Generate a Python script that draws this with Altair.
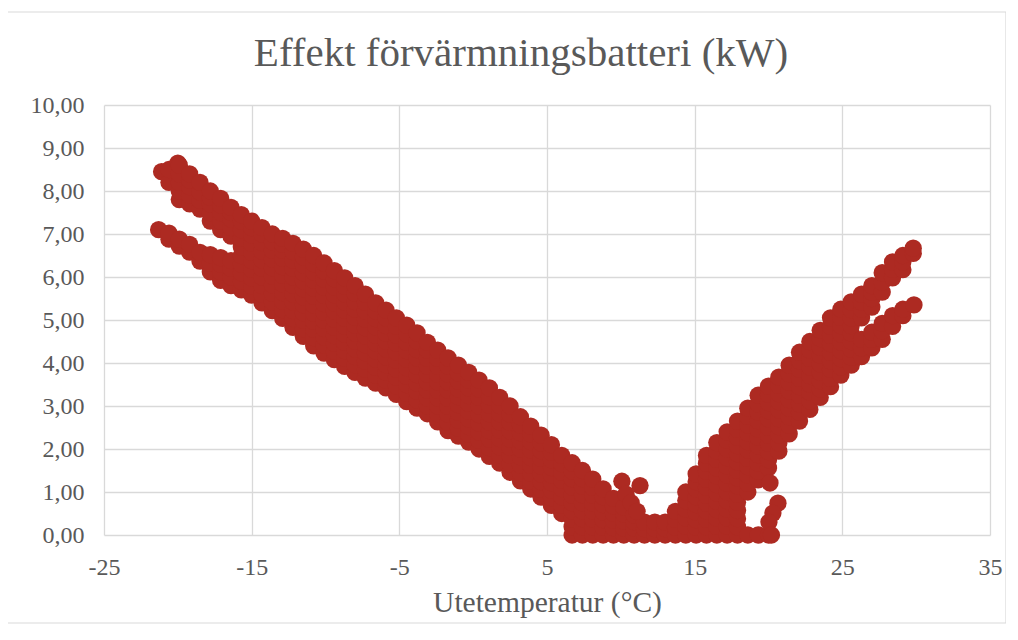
import altair as alt
import pandas as pd

RED = "#AD2A22"
GRID = "#D9D9D9"
TEXT = "#595959"
FONT = "Liberation Serif"

# ---- values (temperature column -> kW values in that column) ----
# upper branch of the cold side
arm_hi_temp = [-21.1, -20.6, -20.0, -19.9, -19.2, -18.5, -17.8, -17.1, -16.4]
arm_hi_kw = [
    [8.45],
    [8.2, 8.5],
    [8.65],
    [7.8, 8.0, 8.2, 8.4, 8.6],
    [7.7, 7.9, 8.1, 8.25, 8.4],
    [7.58, 7.78, 7.98, 8.2],
    [7.3, 7.5, 7.7, 7.85, 8.0],
    [7.1, 7.3, 7.5, 7.68, 7.83],
    [6.95, 7.15, 7.35, 7.5, 7.62],
]
# lower branch of the cold side
arm_lo_temp = [-21.3, -20.6, -19.9, -19.2, -18.5, -17.8, -17.1, -16.4]
arm_lo_kw = [
    [7.1],
    [6.88, 7.02],
    [6.72, 6.88],
    [6.58, 6.76],
    [6.37, 6.57],
    [6.12, 6.32, 6.52],
    [5.92, 6.12, 6.3, 6.45],
    [5.8, 6.0, 6.2, 6.38],
]
# main cold band
cold_temp = [-15.7, -15.0, -14.3, -13.6, -12.9, -12.2, -11.5, -10.8, -10.1, -9.4,
             -8.7, -8.0, -7.3, -6.6, -5.9, -5.2, -4.5, -3.8, -3.1, -2.4,
             -1.7, -1.0, -0.3, 0.4, 1.1, 1.8, 2.5, 3.2, 3.9, 4.6, 5.3, 6.0]
cold_kw = [
    [5.7, 5.9, 6.1, 6.3, 6.5, 6.7, 6.9, 7.1, 7.3, 7.45],
    [5.58, 5.78, 5.98, 6.18, 6.38, 6.58, 6.78, 6.98, 7.15, 7.3],
    [5.4, 5.6, 5.8, 6.0, 6.2, 6.4, 6.6, 6.8, 7.0, 7.15],
    [5.22, 5.42, 5.62, 5.82, 6.02, 6.22, 6.42, 6.62, 6.82, 7.0],
    [5.04, 5.24, 5.44, 5.64, 5.84, 6.04, 6.24, 6.44, 6.62, 6.76, 6.9],
    [4.83, 5.03, 5.22, 5.42, 5.61, 5.81, 6.0, 6.2, 6.39, 6.59, 6.78],
    [4.62, 4.8, 4.99, 5.17, 5.36, 5.54, 5.73, 5.91, 6.1, 6.28, 6.47, 6.65],
    [4.4, 4.59, 4.78, 4.97, 5.16, 5.35, 5.55, 5.74, 5.93, 6.12, 6.31, 6.5],
    [4.23, 4.42, 4.61, 4.8, 4.99, 5.18, 5.38, 5.57, 5.76, 5.95, 6.14, 6.33],
    [4.08, 4.27, 4.46, 4.64, 4.83, 5.02, 5.21, 5.4, 5.59, 5.77, 5.96, 6.15],
    [3.92, 4.11, 4.29, 4.48, 4.67, 4.86, 5.04, 5.23, 5.42, 5.61, 5.79, 5.98],
    [3.78, 3.96, 4.15, 4.33, 4.51, 4.7, 4.88, 5.06, 5.25, 5.43, 5.62, 5.8],
    [3.65, 3.85, 4.04, 4.24, 4.43, 4.63, 4.82, 5.02, 5.21, 5.41, 5.6],
    [3.53, 3.72, 3.9, 4.09, 4.28, 4.47, 4.65, 4.84, 5.03, 5.21, 5.4],
    [3.42, 3.6, 3.78, 3.96, 4.14, 4.33, 4.51, 4.69, 4.87, 5.05, 5.23],
    [3.27, 3.47, 3.67, 3.86, 4.06, 4.26, 4.46, 4.65, 4.85, 5.05],
    [3.1, 3.3, 3.5, 3.69, 3.89, 4.09, 4.29, 4.48, 4.68, 4.88],
    [2.95, 3.14, 3.34, 3.53, 3.73, 3.92, 4.12, 4.31, 4.51, 4.7],
    [2.82, 3.0, 3.19, 3.37, 3.56, 3.74, 3.93, 4.11, 4.3, 4.48],
    [2.63, 2.82, 3.0, 3.19, 3.37, 3.56, 3.74, 3.93, 4.11, 4.3],
    [2.43, 2.62, 2.81, 2.99, 3.18, 3.37, 3.56, 3.74, 3.93, 4.12],
    [2.3, 2.48, 2.67, 2.85, 3.03, 3.22, 3.4, 3.58, 3.77, 3.95],
    [2.16, 2.34, 2.52, 2.7, 2.88, 3.06, 3.24, 3.42, 3.6, 3.78],
    [2.0, 2.2, 2.4, 2.6, 2.8, 3.0, 3.2, 3.4, 3.6],
    [1.83, 2.03, 2.23, 2.43, 2.63, 2.82, 3.02, 3.22, 3.42],
    [1.67, 1.86, 2.05, 2.24, 2.44, 2.63, 2.82, 3.01, 3.2],
    [1.46, 1.65, 1.85, 2.04, 2.23, 2.42, 2.62, 2.81, 3.0],
    [1.26, 1.45, 1.63, 1.82, 2.0, 2.19, 2.38, 2.56, 2.75],
    [1.07, 1.25, 1.44, 1.62, 1.8, 1.98, 2.17, 2.35, 2.53],
    [0.88, 1.06, 1.24, 1.42, 1.6, 1.78, 1.96, 2.14, 2.32],
    [0.69, 0.87, 1.04, 1.22, 1.4, 1.57, 1.75, 1.92, 2.1],
    [0.5, 0.69, 0.89, 1.08, 1.27, 1.46, 1.66, 1.85],
]
# valley (low power around 7-13 degrees)
valley_temp = [6.7, 7.4, 8.1, 8.8, 9.5, 10.2, 10.9, 11.6, 12.3, 13.0]
valley_kw = [
    [0.0, 0.19, 0.37, 0.56, 0.75, 0.93, 1.12, 1.31, 1.49, 1.68],
    [0.0, 0.19, 0.38, 0.56, 0.75, 0.94, 1.13, 1.31, 1.5],
    [0.0, 0.19, 0.37, 0.56, 0.74, 0.93, 1.11, 1.3],
    [0.0, 0.18, 0.36, 0.54, 0.71, 0.89, 1.07],
    [0.0, 0.17, 0.34, 0.51, 0.68, 0.85],
    [0.0, 0.16, 0.33, 0.49, 0.65],
    [0.0, 0.16, 0.31, 0.47],
    [0.0, 0.15, 0.3],
    [0.0, 0.15, 0.3],
    [0.0, 0.15, 0.3],
]
# warm side band
warm_temp = [13.7, 14.4, 15.1, 15.8, 16.5, 17.2, 17.9, 18.6, 19.3, 20.0,
             20.7, 21.4, 22.1, 22.8, 23.5, 24.2, 24.9, 25.6]
warm_kw = [
    [0.0, 0.18, 0.37, 0.55],
    [0.0, 0.2, 0.4, 0.6, 0.8, 1.0],
    [0.0, 0.18, 0.36, 0.53, 0.71, 0.89, 1.07, 1.24, 1.42],
    [0.0, 0.19, 0.37, 0.56, 0.74, 0.93, 1.11, 1.3, 1.48, 1.67, 1.85],
    [0.0, 0.2, 0.39, 0.59, 0.78, 0.98, 1.17, 1.37, 1.56, 1.76, 1.95, 2.15],
    [0.0, 0.2, 0.4, 0.6, 0.8, 1.0, 1.2, 1.4, 1.6, 1.8, 2.0, 2.2, 2.4],
    [0.0, 0.19, 0.38, 0.57, 0.76, 0.95, 1.14, 1.33, 1.51, 1.7, 1.89, 2.08, 2.27, 2.46, 2.65],
    [0.0, 1.0, 1.2, 1.39, 1.59, 1.78, 1.98, 2.17, 2.37, 2.56, 2.76, 2.95],
    [0.0, 1.28, 1.48, 1.67, 1.87, 2.07, 2.27, 2.46, 2.66, 2.86, 3.05, 3.25],
    [0.0, 1.56, 1.75, 1.94, 2.13, 2.32, 2.51, 2.7, 2.89, 3.08, 3.27, 3.46],
    [1.95, 2.14, 2.33, 2.52, 2.71, 2.91, 3.1, 3.29, 3.48, 3.67],
    [2.35, 2.55, 2.75, 2.95, 3.15, 3.35, 3.55, 3.75, 3.95],
    [2.65, 2.85, 3.05, 3.25, 3.45, 3.65, 3.85, 4.05, 4.25],
    [2.92, 3.12, 3.32, 3.51, 3.71, 3.91, 4.11, 4.3, 4.5],
    [3.2, 3.4, 3.59, 3.79, 3.98, 4.18, 4.37, 4.57, 4.76],
    [3.45, 3.65, 3.85, 4.05, 4.25, 4.45, 4.65, 4.85, 5.05],
    [3.72, 3.91, 4.1, 4.29, 4.49, 4.68, 4.87, 5.06, 5.25],
    [3.95, 4.13, 4.32, 4.5, 4.69, 4.87, 5.05, 5.24, 5.42],
]
# warm side upper and lower branches
warm_hi_temp = [26.3, 27.0, 27.7, 28.4, 29.1, 29.8]
warm_hi_kw = [[5.05, 5.25, 5.42, 5.6], [5.3, 5.5, 5.65, 5.8], [5.65, 5.88, 6.1],
              [5.98, 6.18, 6.35], [6.17, 6.35, 6.5], [6.55, 6.67]]
warm_lo_temp = [26.3, 27.0, 27.7, 28.4, 29.1, 29.85]
warm_lo_kw = [[4.15, 4.35, 4.55], [4.35, 4.55, 4.72], [4.55, 4.75, 4.92],
              [4.85, 5.1], [5.1, 5.25], [5.35]]
# single scattered points
single_temp = [10.07, 11.3, 10.35, 10.7, 11.1, 20.1, 20.64, 20.3, 20.03, 20.2]
single_kw = [1.25, 1.15, 0.95, 0.75, 0.55, 1.21, 0.74, 0.51, 0.3, 0.0]

x_ticks = [-25, -15, -5, 5, 15, 25, 35]
y_ticks = [0, 1, 2, 3, 4, 5, 6, 7, 8, 9, 10]

rows = []
for temps, kws in [(arm_hi_temp, arm_hi_kw), (arm_lo_temp, arm_lo_kw),
                   (cold_temp, cold_kw), (valley_temp, valley_kw),
                   (warm_temp, warm_kw), (warm_hi_temp, warm_hi_kw),
                   (warm_lo_temp, warm_lo_kw)]:
    for t, ks in zip(temps, kws):
        for k in ks:
            rows.append({"temp": t, "kw": k})
for t, k in zip(single_temp, single_kw):
    rows.append({"temp": t, "kw": k})
df = pd.DataFrame(rows)

points = alt.Chart(df).mark_circle(size=300, color=RED, opacity=1).encode(
    x=alt.X(
        "temp:Q",
        scale=alt.Scale(domain=[-25, 35], nice=False, zero=False),
        axis=alt.Axis(
            values=x_ticks,
            title="Utetemperatur (°C)",
            labelExpr="datum.value < 0 ? '-' + abs(datum.value) : '' + datum.value",
            labelFlush=False,
            grid=True, gridColor=GRID, gridWidth=1.3,
            domain=False, ticks=False,
            labelFont=FONT, labelFontSize=24, labelColor=TEXT, labelPadding=20,
            titleFont=FONT, titleFontSize=29.5, titleFontWeight="normal",
            titleColor=TEXT, titlePadding=9,
        ),
    ),
    y=alt.Y(
        "kw:Q",
        scale=alt.Scale(domain=[0, 10], nice=False),
        axis=alt.Axis(
            values=y_ticks,
            title=None,
            labelExpr="replace(format(datum.value, '.2f'), '.', ',')",
            labelFlush=False,
            grid=True, gridColor=GRID, gridWidth=1.3,
            domain=False, ticks=False,
            labelFont=FONT, labelFontSize=24, labelColor=TEXT, labelPadding=20,
        ),
    ),
)

frame = alt.Chart(pd.DataFrame({"f": [0]})).mark_rect(
    fill="transparent", stroke=GRID, strokeWidth=1.2
).encode(
    x=alt.value(-97), x2=alt.value(902), y=alt.value(-93), y2=alt.value(518)
)

chart = alt.layer(frame, points).properties(
    width=886,
    height=430,
    title=alt.TitleParams(
        "Effekt förvärmningsbatteri (kW)",
        font=FONT, fontSize=41, fontWeight="normal", color=TEXT,
        anchor="middle", offset=-64, dx=-26,
    ),
    autosize=alt.AutoSizeParams(type="none"),
    padding={"left": 96, "top": 97, "right": 16, "bottom": 92},
).configure_view(stroke=None)

chart.save("out.html", embed_options={"renderer": "svg", "actions": False})
